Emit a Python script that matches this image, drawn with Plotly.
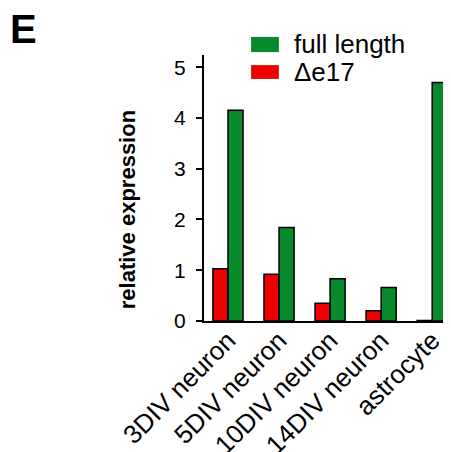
import plotly.graph_objects as go

categories = ["3DIV neuron", "5DIV neuron", "10DIV neuron", "14DIV neuron", "astrocyte"]
delta_e17 = [1.03, 0.92, 0.35, 0.20, 0.01]
full_length = [4.15, 1.84, 0.83, 0.66, 4.70]
series_names = ["full length", "\u0394e17"]
y_ticks = [0, 1, 2, 3, 4, 5]

GREEN = "#078a2c"
RED = "#ee0000"
FONT = "Liberation Sans, Arial, sans-serif"

fig = go.Figure()
fig.add_trace(go.Bar(x=categories, y=delta_e17, name=series_names[1],
                     marker=dict(color=RED, line=dict(color="black", width=1.5))))
fig.add_trace(go.Bar(x=categories, y=full_length, name=series_names[0],
                     marker=dict(color=GREEN, line=dict(color="black", width=1.5))))

fig.update_layout(
    width=443, height=444,
    margin=dict(l=196, r=3, t=47, b=131),
    paper_bgcolor="white", plot_bgcolor="white",
    barmode="group", bargap=0.41, bargroupgap=0.0,
    showlegend=False,
    font=dict(family=FONT, color="black", size=20),
    xaxis=dict(range=[-0.47, 4.31], showline=True, linecolor="black", linewidth=2,
               ticks="", tickangle=-45, tickfont=dict(size=26), showgrid=False,
               zeroline=False, automargin=False, ticklabelstandoff=-8),
    yaxis=dict(range=[0, 5.24], tickvals=y_ticks, showline=True, linecolor="black",
               linewidth=2, ticks="outside", ticklen=6, tickwidth=2, tickcolor="black",
               tickfont=dict(size=21), showgrid=False, zeroline=False, automargin=False,
               ticklabelstandoff=6),
)

# y-axis title
fig.add_annotation(xref="paper", yref="paper", x=-0.315, y=0.417,
                   text="<b>relative expression</b>", textangle=-90, showarrow=False,
                   xanchor="center", yanchor="middle", font=dict(size=22))

# legend drawn as boxes + labels
legend_box = [(1.011, 1.068), (0.910, 0.962)]
legend_text_y = [1.041, 0.936]
legend_colors = [GREEN, RED]
for name, col, (y0, y1), ty in zip(series_names, legend_colors, legend_box, legend_text_y):
    fig.add_shape(type="rect", xref="paper", yref="paper",
                  x0=0.193, x1=0.307, y0=y0, y1=y1,
                  fillcolor=col, line=dict(width=0))
    fig.add_annotation(xref="paper", yref="paper", x=0.36, y=ty, text=name,
                       showarrow=False, xanchor="left", yanchor="middle",
                       font=dict(size=26))

fig.add_annotation(xref="paper", yref="paper", x=-0.738, y=1.098, text="<b>E</b>",
                   showarrow=False, xanchor="center", yanchor="middle", font=dict(size=40))

fig.write_html("out.html")
